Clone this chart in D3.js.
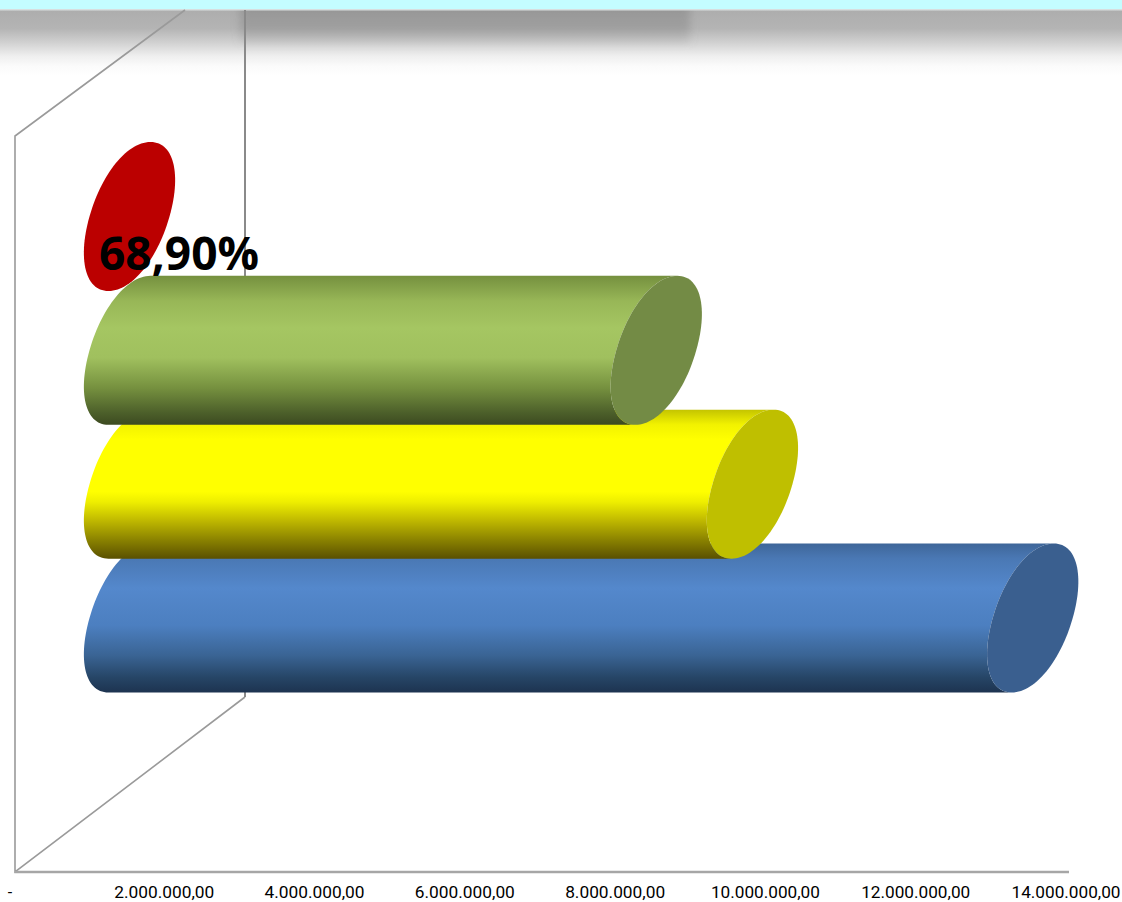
<!DOCTYPE html>
<html><head><meta charset="utf-8">
<script src="https://cdn.jsdelivr.net/npm/d3@7"></script>
<style>html,body{margin:0;padding:0;background:#fff}svg{display:block}</style>
</head><body><svg id="c" width="1122" height="902"></svg>
<script>
const categories = ["Red","Green","Yellow","Blue"];
const values = [0, 7010000, 8290000, 12020000];
const capColors = ["#bb0000","#738b45","#bfbf00","#3a5f8f"];
const bodyStops = [
  [["0","#bb0000"],["1","#bb0000"]],
  [["0","#75903f"],["0.17","#98b757"],["0.35","#a5c662"],["0.55","#a0c05e"],["0.75","#76913f"],["0.92","#4c5f2a"],["1","#3c4a20"]],
  [["0","#c4c400"],["0.1","#f2f200"],["0.2","#ffff00"],["0.55","#ffff00"],["0.62","#eeee00"],["0.745","#bfb800"],["0.88","#888000"],["1","#5a5000"]],
  [["0","#3e6699"],["0.1","#4a78b4"],["0.3","#5488cc"],["0.55","#4c7fc0"],["0.75","#3a6494"],["0.9","#264566"],["1","#1d3350"]]
];
const ticks = [0,2e6,4e6,6e6,8e6,10e6,12e6,14e6];
const tickLabels = ["-","2.000.000,00","4.000.000,00","6.000.000,00","8.000.000,00","10.000.000,00","12.000.000,00","14.000.000,00"];
const dataLabel = "68,90%";

const svg = d3.select("#c"), W = 1122, H = 902;
const floorY = 872, wallX0 = 15, wallX1 = 245, backBottom = 697;
const x = d3.scaleLinear().domain([0,14e6]).range([14,1066]);
const y = d3.scalePoint().domain(categories).range([216.5,618]);
const depth = 115.5, A = 40, S = -21, B = 74.5, n = 2.08;
const defs = svg.append("defs");

// top band
const g0 = defs.append("linearGradient").attr("id","shade").attr("x1",0).attr("x2",0).attr("y1",0).attr("y2",1);
[["0","#adadad"],["0.28","#b4b4b4"],["0.48","#cfcfcf"],["0.7","#efefef"],["0.85","#fbfbfb"],["1","#ffffff"]].forEach(s=>g0.append("stop").attr("offset",s[0]).attr("stop-color",s[1]));
const g1 = defs.append("linearGradient").attr("id","shadeDark").attr("x1",0).attr("x2",0).attr("y1",0).attr("y2",1);
[["0","#808080",0.5],["0.5","#808080",0.4],["1","#808080",0]].forEach(s=>g1.append("stop").attr("offset",s[0]).attr("stop-color",s[1]).attr("stop-opacity",s[2]));
defs.append("filter").attr("id","blur").attr("x","-5%").attr("y","-30%").attr("width","110%").attr("height","160%")
  .append("feGaussianBlur").attr("stdDeviation","4 2");
svg.append("rect").attr("width",W).attr("height",H).attr("fill","#fff");
svg.append("rect").attr("x",0).attr("y",10).attr("width",W).attr("height",66).attr("fill","url(#shade)");
svg.append("rect").attr("x",240).attr("y",4).attr("width",450).attr("height",44).attr("fill","url(#shadeDark)").attr("filter","url(#blur)");
svg.append("rect").attr("x",0).attr("y",0).attr("width",W).attr("height",10).attr("fill","#c4fdff");
svg.append("rect").attr("x",0).attr("y",9).attr("width",W).attr("height",1.5).attr("fill","#d8dede");

// walls
const wall = svg.append("g").attr("fill","none").attr("stroke","#9a9a9a").attr("stroke-width",1.6);
wall.append("polyline").attr("points",[[185,10],[wallX0,136],[wallX0,floorY],[wallX1,backBottom]].join(" "));
wall.append("line").attr("x1",wallX1).attr("x2",wallX1).attr("y1",10).attr("y2",backBottom).attr("stroke","#8a8a8a").attr("stroke-width",2);
svg.append("line").attr("x1",wallX0).attr("x2",1069).attr("y1",floorY).attr("y2",floorY).attr("stroke","#a6a6a6").attr("stroke-width",2.4);

// cylinders
const sp = v => Math.sign(v)*Math.pow(Math.abs(v),2/n);
const ep = (cx,cy,deg)=>{
  const t = deg*Math.PI/180, c = sp(Math.cos(t)), s = sp(Math.sin(t));
  return [cx + A*c + S*s, cy + B*s];
};
const line = d3.line();
const order = [0,3,2,1];
order.forEach(i=>{
  const cx0 = x(0)+depth, cx1 = x(values[i])+depth, cy = y(categories[i]);
  if(values[i] > 0){
    const gid = "b"+i;
    const g = defs.append("linearGradient").attr("id",gid).attr("x1",0).attr("x2",0).attr("y1",0).attr("y2",1);
    bodyStops[i].forEach(s=>g.append("stop").attr("offset",s[0]).attr("stop-color",s[1]));
    const arc = d3.range(270,89,-3).map(d=>ep(cx0,cy,d));
    const end = d3.range(90,271,3).map(d=>ep(cx1,cy,d));
    svg.append("path").attr("d",line(arc.concat(end))+"Z").attr("fill",`url(#${gid})`);
  }
  svg.append("path").attr("d",line(d3.range(0,360,3).map(d=>ep(cx1,cy,d)))+"Z").attr("fill",capColors[i]);
});

// data label
svg.append("text").attr("x",99).attr("y",270).attr("font-family","'Open Sans'").attr("font-weight",700)
  .attr("font-size",46).attr("textLength",160).attr("lengthAdjust","spacingAndGlyphs").attr("fill","#000").text(dataLabel);

// axis labels
svg.append("g").selectAll("text").data(ticks).join("text")
  .attr("x",d=>d===0?10:x(d)).attr("y",898).attr("text-anchor","middle")
  .attr("font-family","Roboto").attr("font-size",16).attr("fill","#000")
  .attr("textLength",(d,i)=>i===0?null:(i<=4?100:109)).attr("lengthAdjust","spacingAndGlyphs")
  .text((d,i)=>tickLabels[i]);
</script></body></html>
